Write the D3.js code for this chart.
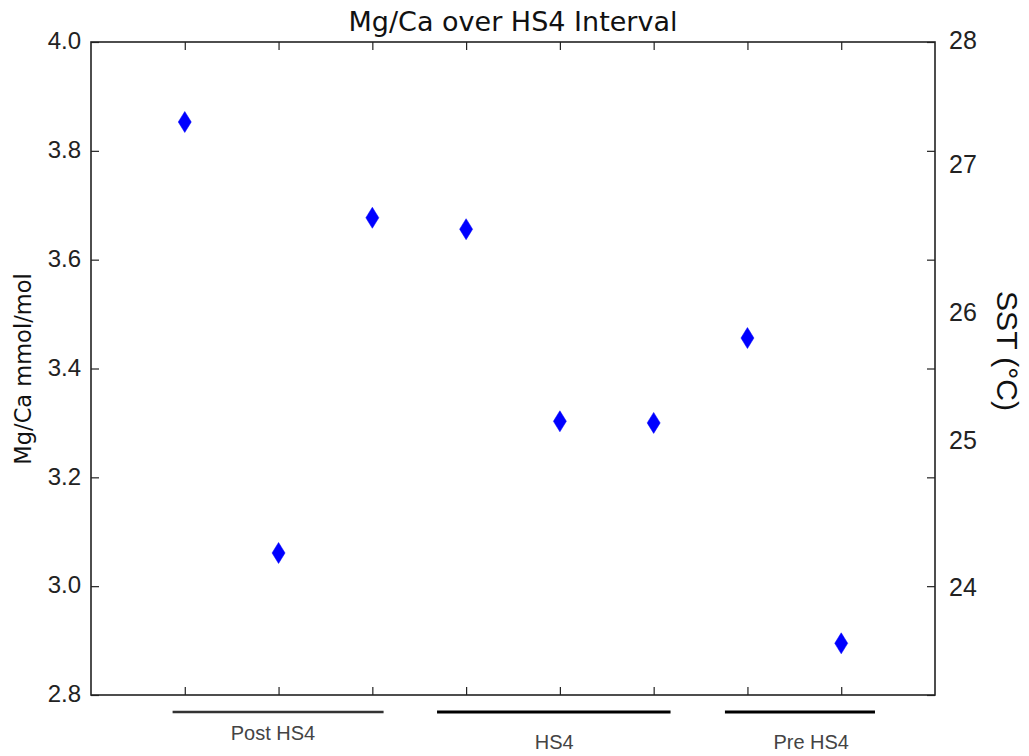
<!DOCTYPE html>
<html>
<head>
<meta charset="utf-8">
<script src="https://cdn.jsdelivr.net/npm/d3@7"></script>
<style>
  body { margin: 0; background: #fff; }
  svg { display: block; }
</style>
</head>
<body>
<svg id="chart" width="1029" height="756"></svg>
<script>
// samples in order (index 1..8), Mg/Ca in mmol/mol
const samples = [1, 2, 3, 4, 5, 6, 7, 8];
const mgca = [3.853, 3.061, 3.677, 3.656, 3.303, 3.300, 3.456, 2.895];

const mgTicks = [2.8, 3.0, 3.2, 3.4, 3.6, 3.8, 4.0];

// right axis labels and the Mg/Ca value each one sits at
const sstTicks = [28, 27, 26, 25, 24];
const sstAtMg = [4.0, 3.772, 3.5, 3.265, 2.995];

// interval brackets under the axis (in sample-index units)
const groupNames = ['Post HS4', 'HS4', 'Pre HS4'];
const groupStart = [0.87, 3.69, 6.76];
const groupEnd = [3.12, 6.18, 8.36];
const groupLabelAt = [1.94, 4.94, 7.68];

const svg = d3.select('#chart');
const margin = {top: 42, right: 94, bottom: 61, left: 91};
const W = 1029, H = 756;
const iw = W - margin.left - margin.right,
    ih = H - margin.top - margin.bottom;

const x = d3.scaleLinear().domain([0, 9]).range([0, iw]);
const y = d3.scaleLinear().domain([2.8, 4.0]).range([ih, 0]);
const sstToMg = d3.scaleLinear().domain(sstTicks).range(sstAtMg);

const g = svg.append('g')
    .attr('transform', `translate(${margin.left},${margin.top})`);

const tickLen = 8;
const axisColor = '#222';

// ticks drawn inward on all four sides
function innerAxis(axis) {
    return function (sel) {
        sel.call(axis);
        sel.select('.domain').remove();
        sel.selectAll('.tick line').attr('stroke', axisColor).attr('stroke-width', 1.2);
    };
}

// left
g.append('g')
    .call(innerAxis(d3.axisLeft(y).tickValues(mgTicks).tickFormat(d3.format('.1f'))
        .tickSizeInner(-tickLen).tickSizeOuter(0).tickPadding(10)))
    .selectAll('text')
    .attr('font-family', '"Liberation Sans", Arial, sans-serif')
    .attr('font-size', 24)
    .attr('fill', '#222')
    .attr('dy', '0.28em');

// right mirrored ticks (no labels)
g.append('g')
    .attr('transform', `translate(${iw},0)`)
    .call(innerAxis(d3.axisRight(y).tickValues(mgTicks).tickFormat('')
        .tickSizeInner(-tickLen).tickSizeOuter(0)));

// right SST labels
g.append('g')
    .selectAll('text')
    .data(sstTicks)
    .join('text')
    .attr('x', iw + 14)
    .attr('y', d => y(sstToMg(d)))
    .attr('dy', '0.28em')
    .attr('font-family', '"Liberation Sans", Arial, sans-serif')
    .attr('font-size', 25)
    .attr('fill', '#222')
    .text(d => d);

// bottom and top ticks
g.append('g')
    .attr('transform', `translate(0,${ih})`)
    .call(innerAxis(d3.axisBottom(x).tickValues(samples).tickFormat('')
        .tickSizeInner(-tickLen).tickSizeOuter(0)));
g.append('g')
    .call(innerAxis(d3.axisTop(x).tickValues(samples).tickFormat('')
        .tickSizeInner(-tickLen).tickSizeOuter(0)));

// frame
g.append('rect')
    .attr('width', iw)
    .attr('height', ih)
    .attr('fill', 'none')
    .attr('stroke', axisColor)
    .attr('stroke-width', 1.6);

// thin diamond markers
const diamond = 'M0,-10.5 L6.5,0 L0,10.5 L-6.5,0 Z';
g.append('g')
    .selectAll('path')
    .data(samples)
    .join('path')
    .attr('d', diamond)
    .attr('transform', (d, i) => `translate(${x(d)},${y(mgca[i])})`)
    .attr('fill', '#0000ff')
    .attr('stroke', '#0000ff')
    .attr('stroke-width', 0.5);

// interval brackets
const brackets = g.append('g');
brackets.selectAll('line')
    .data(groupNames)
    .join('line')
    .attr('x1', (d, i) => x(groupStart[i]))
    .attr('x2', (d, i) => x(groupEnd[i]))
    .attr('y1', ih + 17)
    .attr('y2', ih + 17)
    .attr('stroke', (d, i) => i === 0 ? '#333' : '#000')
    .attr('stroke-width', (d, i) => i === 0 ? 2.5 : 3);

brackets.selectAll('text')
    .data(groupNames)
    .join('text')
    .attr('x', (d, i) => x(groupLabelAt[i]))
    .attr('y', (d, i) => i === 0 ? ih + 45 : ih + 54)
    .attr('text-anchor', 'middle')
    .attr('font-family', '"Liberation Sans", Arial, sans-serif')
    .attr('font-size', 20)
    .attr('fill', '#444')
    .text(d => d);

// title
svg.append('text')
    .attr('x', margin.left + iw / 2)
    .attr('y', 31)
    .attr('text-anchor', 'middle')
    .attr('font-family', '"DejaVu Sans", sans-serif')
    .attr('font-size', 27)
    .attr('fill', '#111')
    .text('Mg/Ca over HS4 Interval');

// left axis title
svg.append('text')
    .attr('transform', `translate(31,369) rotate(-90)`)
    .attr('text-anchor', 'middle')
    .attr('font-family', '"DejaVu Sans", sans-serif')
    .attr('font-size', 22.5)
    .attr('fill', '#111')
    .text('Mg/Ca mmol/mol');

// right axis title
svg.append('text')
    .attr('transform', `translate(997,351) rotate(90)`)
    .attr('text-anchor', 'middle')
    .attr('font-family', '"Liberation Sans", Arial, sans-serif')
    .attr('font-size', 30)
    .attr('fill', '#111')
    .text('SST (°C)');
</script>
</body>
</html>
